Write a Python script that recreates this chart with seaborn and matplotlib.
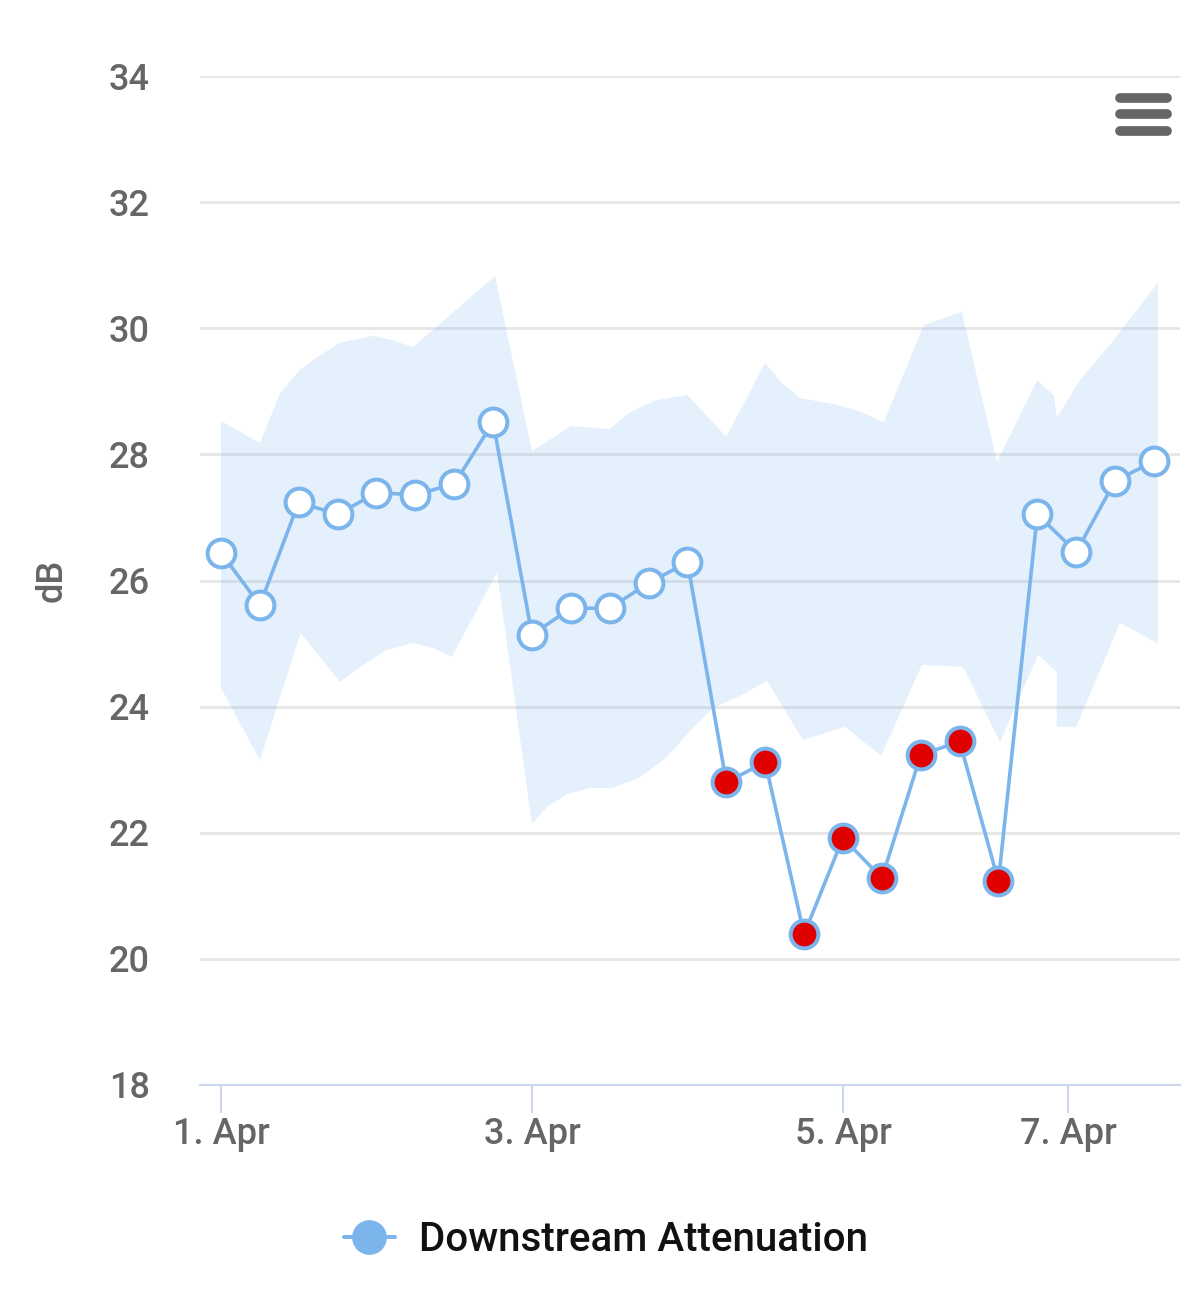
import matplotlib
matplotlib.use("Agg")
import matplotlib.pyplot as plt
from matplotlib.lines import Line2D
import numpy as np
import pandas as pd
import seaborn as sns

# point index 0..24, 6-hourly samples
atten = [26.44, 25.61, 27.24, 27.05, 27.39, 27.36, 27.53, 28.51, 25.14, 25.56,
         25.56, 25.96, 26.29, 22.80, 23.12, 20.39, 21.92, 21.28, 23.23, 23.45,
         21.23, 27.05, 26.45, 27.58, 27.89]
# points below the expected range are flagged red
flagged = [False] * 13 + [True] * 8 + [False] * 4

# expected range (band), upper and lower edges
band_up_x = [0.0, 1.0, 1.52, 2.03, 2.47, 3.06, 3.91, 4.42, 4.94, 7.05, 8.0, 9.0,
             10.0, 10.5, 11.2, 12.0, 13.0, 14.0, 14.4, 14.9, 15.66, 16.36, 17.05,
             18.08, 19.06, 19.96, 21.0, 21.43, 21.5, 22.1, 22.95, 24.1]
band_up = [28.53, 28.18, 28.97, 29.34, 29.54, 29.77, 29.88, 29.81, 29.70, 30.83,
           28.05, 28.45, 28.40, 28.66, 28.86, 28.94, 28.28, 29.45, 29.15, 28.89,
           28.81, 28.70, 28.51, 30.05, 30.26, 27.88, 29.18, 28.93, 28.58, 29.18,
           29.80, 30.72]
band_lo_x = [0.0, 1.0, 2.05, 3.06, 3.58, 4.27, 4.94, 5.45, 5.94, 7.1, 8.0, 8.39,
             8.9, 9.49, 10.08, 10.78, 11.47, 12.06, 12.66, 13.35, 14.05, 14.97,
             16.05, 16.98, 18.03, 19.09, 20.04, 21.02, 21.5, 21.5, 22.0, 23.13, 24.1]
band_lo = [24.30, 23.15, 25.17, 24.39, 24.63, 24.90, 25.01, 24.93, 24.79, 26.13,
           22.14, 22.41, 22.61, 22.71, 22.71, 22.88, 23.20, 23.61, 23.98, 24.17,
           24.41, 23.47, 23.68, 23.22, 24.66, 24.63, 23.44, 24.82, 24.55, 23.68,
           23.68, 25.33, 25.00]

tick_pos = [0, 8, 16, 21.8]
tick_labels = ["1. Apr", "3. Apr", "5. Apr", "7. Apr"]
y_ticks = [18, 20, 22, 24, 26, 28, 30, 32, 34]

blue = "#7cb5ec"
red = "#e00000"
grey = "#666666"

df = pd.DataFrame({"t": np.arange(len(atten)), "dB": atten, "flag": flagged})

sns.set_style("white")
plt.rcParams["font.family"] = ["Roboto", "DejaVu Sans"]

fig = plt.figure(figsize=(12, 12.9), dpi=100)
ax = fig.add_axes([200 / 1200, 1 - 1085 / 1290, 980 / 1200, 1009 / 1290])

for v in y_ticks[1:]:
    ax.axhline(v, color="#e6e6e6", lw=2, zorder=0)

poly_x = band_up_x + band_lo_x[::-1]
poly_y = band_up + band_lo[::-1]
ax.fill(poly_x, poly_y, color=blue, alpha=0.2, lw=0, zorder=1)

sns.lineplot(data=df, x="t", y="dB", color=blue, lw=2.6, ax=ax, zorder=2)
sns.scatterplot(data=df[~df.flag], x="t", y="dB", s=400, color="white",
                edgecolor=blue, linewidth=2.9, ax=ax, zorder=3)
sns.scatterplot(data=df[df.flag], x="t", y="dB", s=400, color=red,
                edgecolor=blue, linewidth=2.9, ax=ax, zorder=3)

ax.set_xlim(-0.54, 24.67)
ax.set_ylim(18, 34)
ax.set_yticks(y_ticks)
ax.set_xticks(tick_pos)
ax.set_xticklabels(tick_labels)
ax.tick_params(axis="y", length=0, pad=36, labelsize=26, labelcolor=grey)
ax.tick_params(axis="x", length=20, width=1.5, color="#ccd6eb", pad=3,
               labelsize=26, labelcolor=grey, bottom=True)
for lab in ax.get_xticklabels() + ax.get_yticklabels():
    lab.set_fontweight("medium")
for s in ["top", "right", "left"]:
    ax.spines[s].set_visible(False)
ax.spines["bottom"].set_color("#ccd6eb")
ax.spines["bottom"].set_linewidth(1.5)
ax.set_xlabel("")
ax.set_ylabel("dB", fontsize=26, color=grey, fontweight="medium")
ax.yaxis.set_label_coords(-0.133, 0.5)

handle = Line2D([], [], color=blue, lw=2.9, marker="o", markersize=24,
                markerfacecolor=blue, markeredgecolor=blue)
fig.legend([handle], ["Downstream Attenuation"], loc="center",
           bbox_to_anchor=(0.5 + 6 / 1200, 1 - 1240 / 1290), frameon=False,
           prop={"size": 29, "weight": "medium"}, labelcolor="#111111",
           handlelength=1.25, handletextpad=0.6)

# context-menu icon
for yy in [98, 114, 131]:
    fig.add_artist(Line2D([1120 / 1200, 1167 / 1200], [1 - yy / 1290] * 2,
                          color=grey, lw=7, solid_capstyle="round"))

fig.savefig("out.png", dpi=100)
